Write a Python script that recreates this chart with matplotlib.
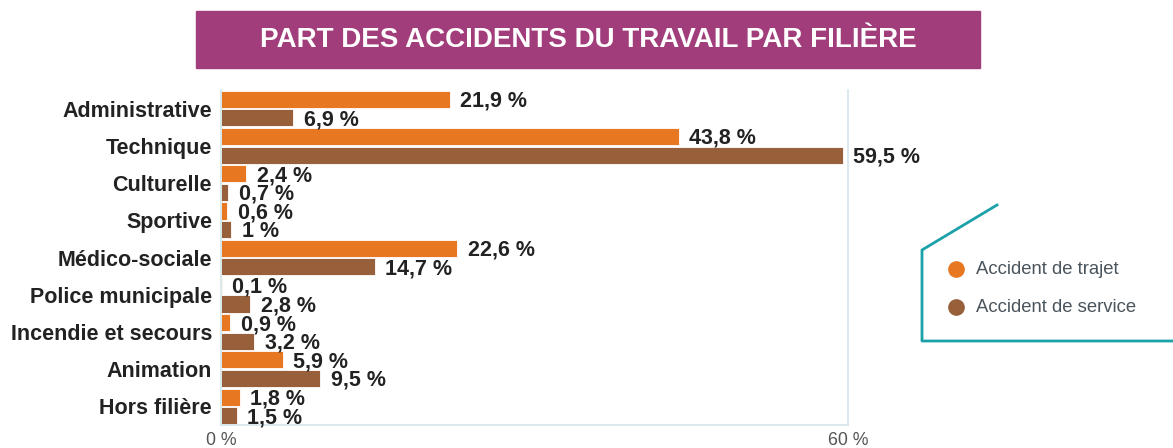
import numpy as np
import matplotlib.pyplot as plt
from matplotlib.patches import Rectangle
from matplotlib.lines import Line2D

filieres = ['Administrative', 'Technique', 'Culturelle', 'Sportive', 'Médico-sociale',
            'Police municipale', 'Incendie et secours', 'Animation', 'Hors filière']
trajet = [21.9, 43.8, 2.4, 0.6, 22.6, 0.1, 0.9, 5.9, 1.8]
service = [6.9, 59.5, 0.7, 1.0, 14.7, 2.8, 3.2, 9.5, 1.5]
trajet_lbl = ['21,9 %', '43,8 %', '2,4 %', '0,6 %', '22,6 %', '0,1 %', '0,9 %', '5,9 %', '1,8 %']
service_lbl = ['6,9 %', '59,5 %', '0,7 %', '1 %', '14,7 %', '2,8 %', '3,2 %', '9,5 %', '1,5 %']
series = ['Accident de trajet', 'Accident de service']

orange = '#E87722'
brun = '#97603A'
teal = '#1BA1A9'
frame = '#d3e5ea'

plt.rcParams['font.family'] = ['Liberation Sans', 'DejaVu Sans']

fig = plt.figure(figsize=(11.73, 4.48), dpi=100)
ax = fig.add_axes([0.1884, 0.0513, 0.5345, 0.7478])

y = np.arange(len(filieres))
h = 0.46
ax.barh(y - 0.25, trajet, height=h, color=orange, edgecolor='white', linewidth=0.6)
ax.barh(y + 0.25, service, height=h, color=brun, edgecolor='white', linewidth=0.6)

for i in range(len(filieres)):
    ax.text(trajet[i] + 1.0, y[i] - 0.2, trajet_lbl[i], fontsize=15.5, fontweight='bold',
            color='#222222', va='center', ha='left')
    ax.text(service[i] + 1.0, y[i] + 0.3, service_lbl[i], fontsize=15.5, fontweight='bold',
            color='#222222', va='center', ha='left')

ax.set_xlim(0, 60)
ax.set_ylim(len(filieres) - 0.5, -0.5)
ax.set_yticks(y)
ax.set_yticklabels(filieres, fontsize=15.5, fontweight='bold', color='#222222')
ax.set_xticks([0, 60])
ax.set_xticklabels(['0 %', '60 %'], fontsize=12.8, color='#555555')
ax.tick_params(length=0, pad=5)
ax.tick_params(axis='y', pad=6.5)
ax.spines['top'].set_visible(False)
for s in ['left', 'right', 'bottom']:
    ax.spines[s].set_color(frame)
    ax.spines[s].set_linewidth(1.2)

# bandeau du titre
fig.patches.append(Rectangle((196 / 1173, 1 - 68 / 448), (980 - 196) / 1173, 57 / 448,
                             transform=fig.transFigure, color='#A23D7C', zorder=0))
fig.text(588 / 1173, 1 - 40 / 448, 'PART DES ACCIDENTS DU TRAVAIL PAR FILIÈRE',
         ha='center', va='center', color='white', fontsize=20, fontweight='bold',
         family=['Liberation Sans Narrow', 'Liberation Sans', 'DejaVu Sans'])

# cadre de légende
fx = lambda px: px / 1173
fy = lambda py: 1 - py / 448
fig.lines.append(Line2D([fx(997), fx(922), fx(922), fx(1173)], [fy(205), fy(250), fy(341), fy(341)],
                        transform=fig.transFigure, color=teal, linewidth=2))
for k, (lab, col) in enumerate(zip(series, [orange, brun])):
    yy = fy(269 + 38 * k)
    fig.lines.append(Line2D([fx(956)], [yy], transform=fig.transFigure, marker='o',
                            markersize=11, color=col, linestyle='none'))
    fig.text(fx(976), yy, lab, ha='left', va='center', fontsize=13.3, color='#4a545c')

fig.savefig('out.png', dpi=100)
